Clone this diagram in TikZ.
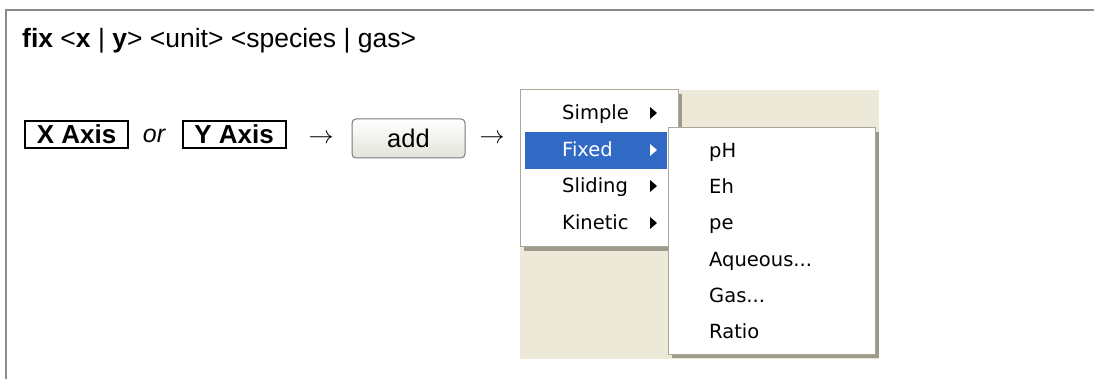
\documentclass[tikz,border=0pt]{standalone}
\usepackage{fontspec}
\setmainfont{Liberation Sans}
\newfontfamily\menufont{DejaVu Sans}
\definecolor{framegray}{HTML}{8C8C8C}
\definecolor{beige}{HTML}{ECE9D8}
\definecolor{menuborder}{HTML}{ACA899}
\definecolor{shadowgray}{HTML}{9D9A8C}
\definecolor{xpblue}{HTML}{316AC5}
\definecolor{btnborder}{HTML}{7A7A7A}
\definecolor{btnbottom}{HTML}{E3E3DA}
\begin{document}
\begin{tikzpicture}[x=1pt,y=-1pt,
  bigtext/.style={font=\fontsize{26.5}{30}\selectfont, inner sep=0pt, anchor=base west},
  axisbox/.style={draw=black, line width=2pt, inner sep=0pt, minimum width=103pt, minimum height=27pt, font=\fontsize{26}{30}\selectfont\bfseries},
  arrowtext/.style={inner sep=0pt, scale=2.5},
  menuitem/.style={font=\menufont\fontsize{19.5}{22}\selectfont, inner sep=0pt, anchor=base west},
  menubox/.style={fill=white, draw=menuborder, line width=1pt},
  shadowbox/.style={fill=shadowgray}]
\useasboundingbox (0,0) rectangle (1094,379);
\fill[white] (0,0) rectangle (1094,379);
\draw[framegray, line width=2pt] (6,380) -- (6,10) -- (1095,10);

% title line
\node[bigtext] (title) at (22,48) {\textbf{fix} <\textbf{x} | \textbf{y}> <unit> <species | gas>};

% buttons row
\node[axisbox] (xaxis) at (76.5,134.5) {X Axis};
\node[inner sep=0pt, anchor=base, font=\fontsize{25}{30}\selectfont\itshape] (or) at (154,143) {or};
\node[axisbox] (yaxis) at (234,134.5) {Y Axis};
\node[arrowtext] (arr1) at (321,139) {$\rightarrow$};
\node[draw=btnborder, line width=1pt, rounded corners=4pt, top color=white, bottom color=btnbottom,
      minimum width=113pt, minimum height=39pt, inner sep=0pt, font=\fontsize{25.5}{30}\selectfont] (add) at (408.5,138.5) {add};
\node[arrowtext] (arr2) at (492,139) {$\rightarrow$};

% menu background
\fill[beige] (520,90) rectangle (879,359);

% main menu
\fill[shadowgray] (524,94) rectangle (682,251);
\draw[menubox] (520,90) rectangle (678,247);
\fill[xpblue] (525,132) rectangle (667,169);
\node[menuitem] (simple) at (562,120) {Simple};
\node[menuitem, text=white] (fixed) at (562,157) {Fixed};
\node[menuitem] (sliding) at (562,193) {Sliding};
\node[menuitem] (kinetic) at (562,230) {Kinetic};
\fill[black] (650,107) -- (650,119) -- (657,113) -- cycle;
\fill[white] (650,144) -- (650,156) -- (657,150) -- cycle;
\fill[black] (650,180) -- (650,192) -- (657,186) -- cycle;
\fill[black] (650,217) -- (650,229) -- (657,223) -- cycle;

% submenu
\fill[shadowgray] (672,132) rectangle (879,358);
\draw[menubox] (668,128) rectangle (875,354);
\node[menuitem] (ph) at (709,158) {pH};
\node[menuitem] (eh) at (709,194) {Eh};
\node[menuitem] (pe) at (709,230) {pe};
\node[menuitem] (aq) at (709,266) {Aqueous...};
\node[menuitem] (gas) at (709,302) {Gas...};
\node[menuitem] (ratio) at (709,338) {Ratio};
\end{tikzpicture}
\end{document}
